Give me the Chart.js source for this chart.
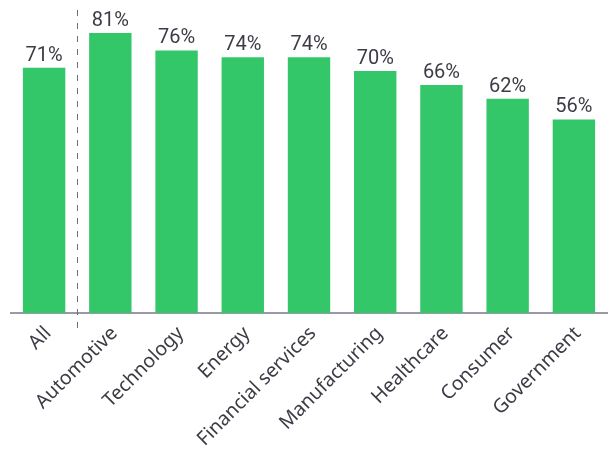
<!DOCTYPE html>
<html>
<head>
<meta charset="utf-8">
<script src="https://cdn.jsdelivr.net/npm/chart.js@4"></script>
<style>
  html, body { margin: 0; padding: 0; background: #fff; }
  #wrap { width: 610px; height: 459px; }
</style>
</head>
<body>
<div id="wrap"><canvas id="myChart"></canvas></div>
<script>
const categories = ['All', 'Automotive', 'Technology', 'Energy', 'Financial services', 'Manufacturing', 'Healthcare', 'Consumer', 'Government'];
const values = [71, 81, 76, 74, 74, 70, 66, 62, 56];

const textColor = '#3c3c46';

// value labels above the bars + dashed divider after "All"
const extras = {
    id: 'extras',
    afterDatasetsDraw(chart) {
        const ctx = chart.ctx;
        const meta = chart.getDatasetMeta(0);
        ctx.save();
        ctx.fillStyle = textColor;
        ctx.font = '20px Roboto';
        ctx.textAlign = 'center';
        ctx.textBaseline = 'alphabetic';
        meta.data.forEach((bar, i) => {
            ctx.fillText(values[i] + '%', bar.x, bar.y - 7);
        });

        const x = chart.scales.x;
        const xm = Math.round((x.getPixelForValue(0) + x.getPixelForValue(1)) / 2) + 0.5;
        ctx.strokeStyle = '#6e6e7a';
        ctx.lineWidth = 1;
        ctx.setLineDash([6, 7]);
        ctx.beginPath();
        ctx.moveTo(xm, 10);
        ctx.lineTo(xm, chart.chartArea.bottom + 19);
        ctx.stroke();
        ctx.restore();
    }
};

const myChart = new Chart(document.getElementById('myChart'), {
    type: 'bar',
    data: {
        labels: categories,
        datasets: [{
            data: values,
            backgroundColor: '#33c76a',
            borderWidth: 0,
            barPercentage: 0.64,
            categoryPercentage: 1
        }]
    },
    options: {
        responsive: true,
        maintainAspectRatio: false,
        animation: false,
        layout: { padding: { left: 11, right: 3, top: 2, bottom: 0 } },
        plugins: {
            legend: { display: false },
            tooltip: { enabled: false }
        },
        scales: {
            y: {
                display: false,
                min: 0,
                max: 90
            },
            x: {
                grid: { display: false, drawTicks: false },
                border: { display: true, color: '#9a9aa4', width: 2 },
                afterFit(scale) { scale.height = 146; },
                ticks: {
                    color: textColor,
                    font: { family: '"Noto Sans"', size: 19.5 },
                    minRotation: 45,
                    maxRotation: 45,
                    padding: 9,
                    labelOffset: 4,
                    autoSkip: false
                }
            }
        }
    },
    plugins: [extras]
});
</script>
</body>
</html>
